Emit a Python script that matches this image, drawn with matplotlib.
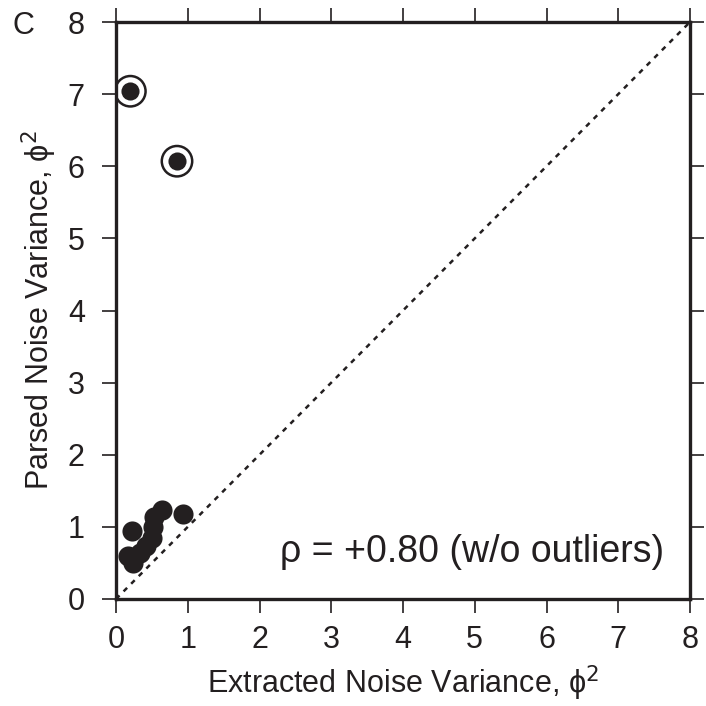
import matplotlib
matplotlib.use("Agg")
import matplotlib.pyplot as plt

plt.rcParams['font.family'] = ['Liberation Sans', 'DejaVu Sans']

extracted = [0.22, 0.17, 0.24, 0.33, 0.42, 0.50, 0.52, 0.53, 0.64, 0.93]
parsed = [0.94, 0.60, 0.50, 0.64, 0.74, 0.85, 1.00, 1.14, 1.24, 1.18]
out_extracted = [0.20, 0.85]
out_parsed = [7.04, 6.07]
ticks = [0, 1, 2, 3, 4, 5, 6, 7, 8]

fig = plt.figure(figsize=(7.06, 7.06), dpi=100)
ax = fig.add_axes([116/706, 107/706, 574/706, 577/706])

ax.plot([0, 8], [0, 8], linestyle=(0, (2, 2.3)), color='#231f20', lw=1.8, zorder=1)
ax.scatter(extracted, parsed, s=210, color='#231f20', zorder=3, linewidths=0)
ax.scatter(out_extracted, out_parsed, s=170, color='#231f20', zorder=3, linewidths=0)
ax.scatter(out_extracted, out_parsed, s=480, facecolors='none', edgecolors='#231f20', linewidths=1.8, zorder=3)

ax.set_xlim(0, 8)
ax.set_ylim(0, 8)
ax.set_xticks(ticks)
ax.set_yticks(ticks)
ax.tick_params(direction='out', length=10, width=1.2, labelsize=22, color='#231f20',
               labelcolor='#231f20', top=True, right=True, labeltop=False, labelright=False)
ax.tick_params(axis='y', pad=12.5)
ax.tick_params(axis='x', pad=8.5)
for s in ax.spines.values():
    s.set_linewidth(2.4)
    s.set_color('#231f20')

ax.set_xlabel('Extracted Noise Variance, ϕ$^{2}$', fontsize=22, color='#231f20', labelpad=6)
ax.set_ylabel('Parsed Noise Variance, ϕ$^{2}$', fontsize=22, color='#231f20', labelpad=6)
ax.text(0.955, 0.082, 'ρ = +0.80 (w/o outliers)', transform=ax.transAxes, ha='right', va='center',
        fontsize=27, color='#231f20')
fig.text(23/706, 1 - 26/706, 'C', fontsize=22, ha='center', va='center', color='#231f20')

fig.savefig('out.png', dpi=100)
